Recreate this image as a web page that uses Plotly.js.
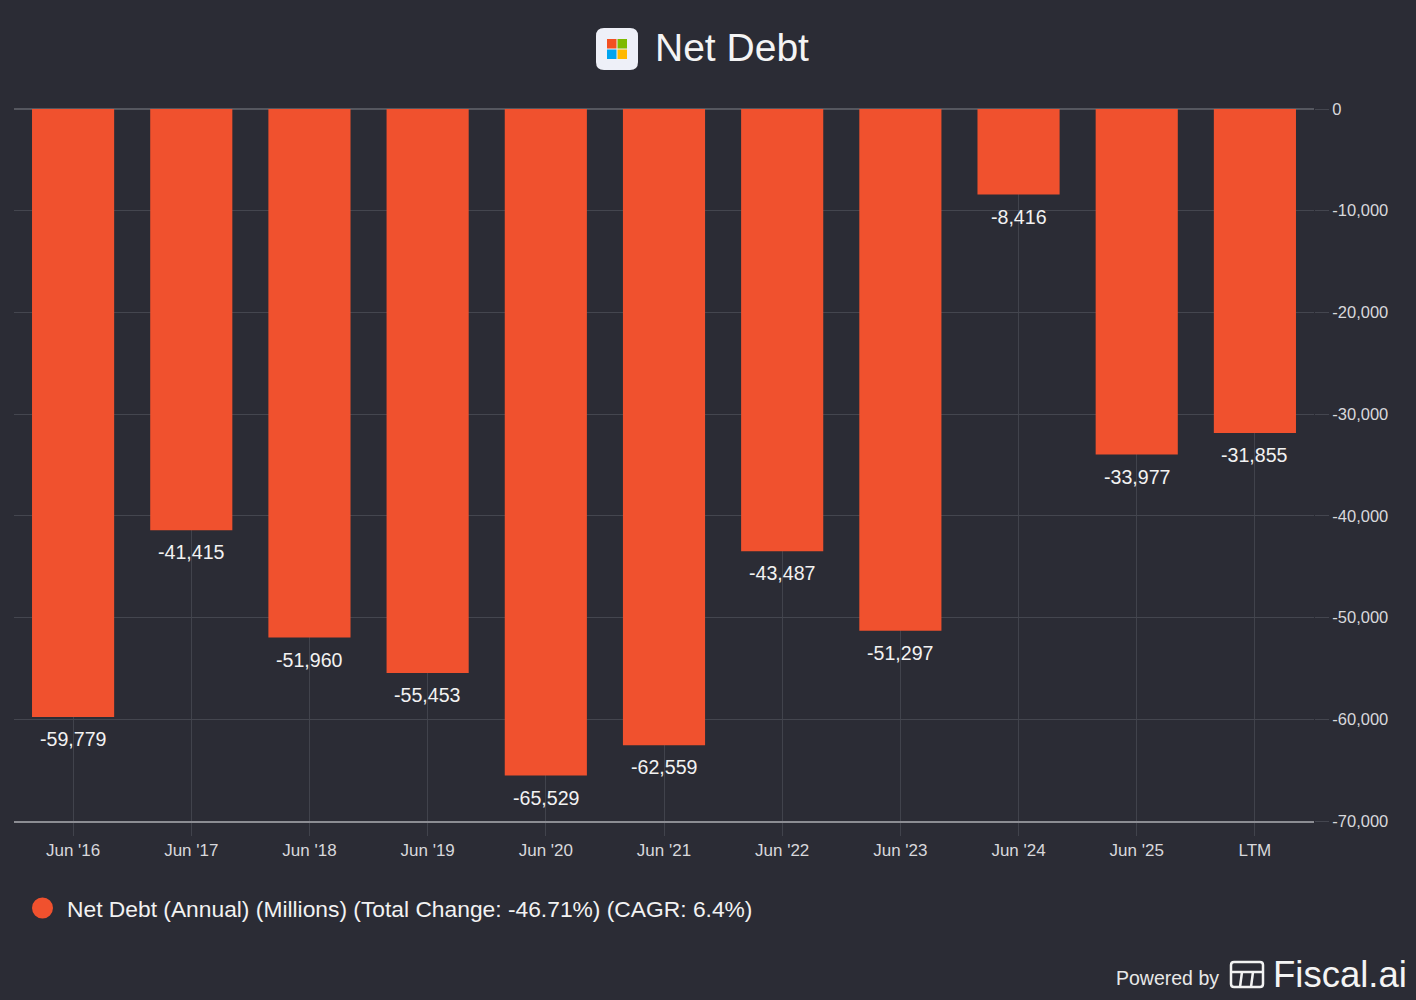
<!DOCTYPE html>
<html>
<head>
<meta charset="utf-8">
<script src="https://cdn.plot.ly/plotly-3.0.1.min.js"></script>
<style>html,body{margin:0;padding:0;background:#2b2c35;}#chart{width:1416px;height:1000px;}</style>
</head>
<body>
<div id="chart"></div>
<script>
const categories = ["Jun '16","Jun '17","Jun '18","Jun '19","Jun '20","Jun '21","Jun '22","Jun '23","Jun '24","Jun '25","LTM"];
const netDebt = [-59779,-41415,-51960,-55453,-65529,-62559,-43487,-51297,-8416,-33977,-31855];
const yTickVals = [0,-10000,-20000,-30000,-40000,-50000,-60000,-70000];
const yTickText = ["0","-10,000","-20,000","-30,000","-40,000","-50,000","-60,000","-70,000"];
const labels = netDebt.map(v => v.toLocaleString('en-US'));

const W = 1416, H = 1000;
const L = 14, R = 102, T = 109, B = 179;
const PW = W - L - R, PH = H - T - B;
const px = x => (x - L) / PW;
const py = y => (H - B - y) / PH;

const BG = '#2b2c35';
const FONT = '"Liberation Sans", Arial, Helvetica, sans-serif';

const trace = {
  type: 'bar',
  x: categories,
  y: netDebt,
  marker: {color: '#f0512e', line: {width: 0}},
  showlegend: false,
  hoverinfo: 'x+y'
};

function roundRect(x0, y0, x1, y1, r) {
  const X = v => px(v), Y = v => py(v);
  return `M ${X(x0+r)},${Y(y0)} L ${X(x1-r)},${Y(y0)} Q ${X(x1)},${Y(y0)} ${X(x1)},${Y(y0+r)} ` +
         `L ${X(x1)},${Y(y1-r)} Q ${X(x1)},${Y(y1)} ${X(x1-r)},${Y(y1)} ` +
         `L ${X(x0+r)},${Y(y1)} Q ${X(x0)},${Y(y1)} ${X(x0)},${Y(y1-r)} ` +
         `L ${X(x0)},${Y(y0+r)} Q ${X(x0)},${Y(y0)} ${X(x0+r)},${Y(y0)} Z`;
}

const shapes = [
  {type:'path', xref:'paper', yref:'paper', path: roundRect(596, 28, 638, 70, 8), fillcolor:'#eef0f8', line:{width:0}},
  {type:'rect', xref:'paper', yref:'paper', x0:px(607), x1:px(616.5), y0:py(48.5), y1:py(39), fillcolor:'#f25022', line:{width:0}},
  {type:'rect', xref:'paper', yref:'paper', x0:px(617.5), x1:px(627), y0:py(48.5), y1:py(39), fillcolor:'#7fba00', line:{width:0}},
  {type:'rect', xref:'paper', yref:'paper', x0:px(607), x1:px(616.5), y0:py(59), y1:py(49.5), fillcolor:'#00a4ef', line:{width:0}},
  {type:'rect', xref:'paper', yref:'paper', x0:px(617.5), x1:px(627), y0:py(59), y1:py(49.5), fillcolor:'#ffb900', line:{width:0}},
  {type:'circle', xref:'paper', yref:'paper', x0:px(32), x1:px(53), y0:py(918.5), y1:py(897.5), fillcolor:'#f0512e', line:{width:0}},
  {type:'path', xref:'paper', yref:'paper', path: roundRect(1231, 962, 1263, 987, 3), fillcolor:'rgba(0,0,0,0)', line:{color:'#f2f2f2', width:2.5}},
  {type:'line', xref:'paper', yref:'paper', x0:px(1231), x1:px(1263), y0:py(972), y1:py(972), line:{color:'#f2f2f2', width:2.5}},
  {type:'line', xref:'paper', yref:'paper', x0:px(1242), x1:px(1240), y0:py(972), y1:py(987), line:{color:'#f2f2f2', width:2.5}},
  {type:'line', xref:'paper', yref:'paper', x0:px(1253), x1:px(1251), y0:py(972), y1:py(987), line:{color:'#f2f2f2', width:2.5}}
];

const annotations = [
  {xref:'paper', yref:'paper', x:px(653), y:py(47), xanchor:'left', yanchor:'middle', text:'Net Debt', showarrow:false, font:{family:FONT, size:39, color:'#f4f4f4'}},
  {xref:'paper', yref:'paper', x:px(65), y:py(909), xanchor:'left', yanchor:'middle', text:'Net Debt (Annual) (Millions) (Total Change: -46.71%) (CAGR: 6.4%)', showarrow:false, font:{family:FONT, size:22.8, color:'#f2f2f2'}},
  {xref:'paper', yref:'paper', x:px(1221), y:py(978), xanchor:'right', yanchor:'middle', text:'Powered by', showarrow:false, font:{family:FONT, size:19.5, color:'#e8e8e8'}},
  {xref:'paper', yref:'paper', x:px(1271), y:py(975), xanchor:'left', yanchor:'middle', text:'Fiscal.ai', showarrow:false, font:{family:FONT, size:36.5, color:'#f4f4f4'}}
].concat(categories.map((c, i) => ({
  xref:'x', yref:'y', x:c, y:netDebt[i], yanchor:'middle', xanchor:'center', yshift:-22,
  text: labels[i], showarrow:false, font:{family:FONT, size:19.6, color:'#f2f2f2'}
})));

const layout = {
  width: W, height: H,
  paper_bgcolor: BG, plot_bgcolor: BG,
  margin: {l: L, r: R, t: T, b: B, pad: 0},
  bargap: 0.305,
  font: {family: FONT, color: '#d8d8dc'},
  xaxis: {
    type: 'category',
    showgrid: true, gridcolor: '#41434c', gridwidth: 1,
    showline: true, linecolor: '#8c8d93', linewidth: 2,
    ticks: 'outside', ticklen: 13, tickcolor: '#41434c', tickwidth: 1,
    tickfont: {family: FONT, size: 17, color: '#d8d8dc'},
    fixedrange: true
  },
  yaxis: {
    side: 'right',
    range: [-70000, 0],
    tickvals: yTickVals, ticktext: yTickText,
    showgrid: true, gridcolor: '#44464f', gridwidth: 1,
    zeroline: true, zerolinecolor: '#55575f', zerolinewidth: 2,
    showline: false,
    ticks: 'outside', ticklen: 14, tickcolor: '#44464f',
    tickfont: {family: FONT, size: 16.5, color: '#d8d8dc'},
    fixedrange: true
  },
  shapes: shapes,
  annotations: annotations,
  showlegend: false
};

Plotly.newPlot('chart', [trace], layout, {displayModeBar: false, staticPlot: true});
</script>
</body>
</html>
